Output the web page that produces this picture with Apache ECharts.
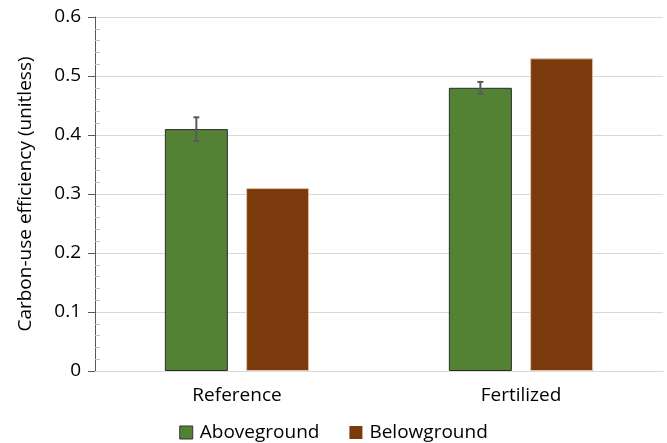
<!DOCTYPE html>
<html>
<head>
<meta charset="utf-8">
<script src="https://cdn.jsdelivr.net/npm/echarts@6/dist/echarts.min.js"></script>
<style>
  html, body { margin: 0; padding: 0; background: #fff; }
  #chart { width: 667px; height: 443px; }
</style>
</head>
<body>
<div id="chart"></div>
<script>
// Carbon-use efficiency by treatment
const categories = ['Reference', 'Fertilized'];
const aboveground = [0.41, 0.48];
const abovegroundErr = [0.02, 0.01];
const belowground = [0.31, 0.53];
const yTicks = [0, 0.1, 0.2, 0.3, 0.4, 0.5, 0.6];

const FONT = '"Open Sans", "Noto Sans", sans-serif';
const GREEN = '#548235';
const BROWN = '#7B3A0C';
const BAR_W = 63;
const BAR_GAP = 0.29;

const chart = echarts.init(document.getElementById('chart'));

const errData = categories.map((c, i) => [i, aboveground[i] - abovegroundErr[i], aboveground[i] + abovegroundErr[i]]);

chart.setOption({
  animation: false,
  textStyle: { fontFamily: FONT },
  grid: { left: 95, right: 4, top: 17, bottom: 72 },
  legend: {
    top: 418,
    left: 'center',
    itemWidth: 13,
    itemHeight: 13,
    itemGap: 30,
    textStyle: { fontSize: 19, color: '#000', fontFamily: FONT, padding: [0, 0, 0, 2] },
    data: [
      { name: 'Aboveground', icon: 'rect', itemStyle: { color: GREEN, borderColor: '#333', borderWidth: 1 } },
      { name: 'Belowground', icon: 'rect', itemStyle: { color: BROWN, borderWidth: 0 } }
    ]
  },
  xAxis: {
    type: 'category',
    data: categories,
    axisLine: { lineStyle: { color: '#d9d9d9', width: 1 } },
    axisTick: { show: false },
    axisLabel: { fontSize: 19, color: '#000', margin: 15, fontFamily: FONT }
  },
  yAxis: [{
    type: 'value',
    min: yTicks[0],
    max: yTicks[yTicks.length - 1],
    interval: 0.1,
    name: 'Carbon-use efficiency (unitless)',
    nameLocation: 'middle',
    nameGap: 60,
    nameTextStyle: { fontSize: 19, color: '#000', fontFamily: FONT },
    axisLine: { show: true, lineStyle: { color: '#595959', width: 1 } },
    axisTick: { show: true, length: 7, lineStyle: { color: '#595959' } },
    axisLabel: { fontSize: 19, color: '#000', margin: 14, fontFamily: FONT,
      formatter: v => (Math.round(v * 10) / 10).toString() },
    splitLine: { show: true, lineStyle: { color: '#d9d9d9', width: 1 } }
  }, {
    // overlay axis drawing the inner minor ticks
    type: 'value',
    position: 'left',
    min: yTicks[0],
    max: yTicks[yTicks.length - 1],
    interval: 0.1,
    axisLine: { show: false },
    axisTick: { show: false, inside: true },
    axisLabel: { show: false },
    splitLine: { show: false },
    minorTick: { show: true, splitNumber: 5, length: 5, lineStyle: { color: '#bfbfbf', width: 1 } }
  }],
  series: [
    {
      name: 'Aboveground',
      type: 'bar',
      data: aboveground,
      barWidth: BAR_W,
      barGap: (BAR_GAP * 100) + '%',
      itemStyle: { color: GREEN, borderColor: '#2b2b2b', borderWidth: 1 }
    },
    {
      name: 'Belowground',
      type: 'bar',
      data: belowground,
      barWidth: BAR_W,
      itemStyle: { color: BROWN, borderColor: '#e6c3a8', borderWidth: 1 }
    },
    {
      name: 'errors',
      type: 'custom',
      data: errData,
      z: 10,
      renderItem: function (params, api) {
        const idx = api.value(0);
        const lo = api.coord([idx, api.value(1)]);
        const hi = api.coord([idx, api.value(2)]);
        // centre of the first bar in the group
        const cx = lo[0] - (BAR_W * 2 + BAR_GAP * BAR_W) / 2 + BAR_W / 2;
        const style = { stroke: '#595959', lineWidth: 2 };
        const cap = 3;
        return {
          type: 'group',
          children: [
            { type: 'line', shape: { x1: cx, y1: lo[1], x2: cx, y2: hi[1] }, style },
            { type: 'line', shape: { x1: cx - cap, y1: hi[1], x2: cx + cap, y2: hi[1] }, style },
            { type: 'line', shape: { x1: cx - cap, y1: lo[1], x2: cx + cap, y2: lo[1] }, style }
          ]
        };
      }
    }
  ]
});
</script>
</body>
</html>
